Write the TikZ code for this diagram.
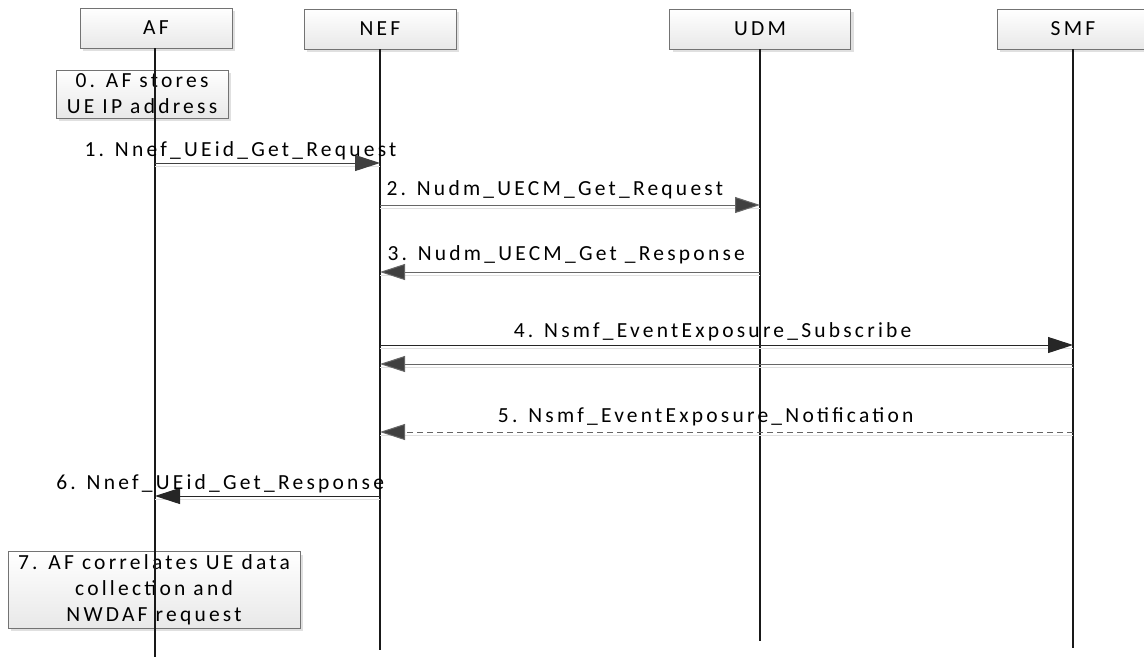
\documentclass[tikz,border=0pt]{standalone}
\usepackage{fontspec}
\setmainfont{Carlito}[LetterSpace=15]
\usepackage{tikz}
\usetikzlibrary{arrows.meta, positioning, calc, shadows}

\begin{document}
\begin{tikzpicture}[
    x=1pt, y=-1pt,
    font=\fontsize{21.5}{26}\selectfont,
    >={Triangle[length=25pt, width=16pt]},
    baseBox/.style={
        rectangle,
        draw=black!55,
        line width=0.9pt,
        top color=white,
        bottom color=black!9,
        align=center,
        inner sep=3pt,
        drop shadow={shadow xshift=3pt, shadow yshift=-3pt, fill=black!12, opacity=1}
    },
    headBox/.style={baseBox, minimum width=152pt, minimum height=40pt},
    noteBox/.style={baseBox},
    vida/.style={line width=1.6pt, draw=black!90},
    seta/.style={->, line width=1pt, draw=black!85,
        preaction={draw=black!12, -, transform canvas={yshift=-3pt}}},
    setaCinza/.style={seta, draw=black!60, -{Triangle[length=25pt, width=16pt, fill=black!75]}},
    tracejada/.style={setaCinza, dash pattern=on 6pt off 4pt},
    rotulo/.style={above, inner sep=6pt}
]
    \useasboundingbox (0,0) rectangle (1144,657);

    % --- 1. Participants ---
    \node[headBox] (af) at (156,28) {AF};
    \node[headBox] (nef) at (380,29) {NEF};
    \node[headBox, minimum width=181pt] (udm) at (760,29) {UDM};
    \node[headBox] (smf) at (1073,29) {SMF};

    % --- 2. Local actions of the AF ---
    \node[noteBox, minimum width=172pt, minimum height=48pt] (stores) at (142,94)
        {0. AF stores\\UE IP address};
    \node[noteBox, minimum width=292pt, minimum height=75pt] (correlates) at (154,590)
        {7. AF correlates UE data\\collection and\\NWDAF request};

    % --- 3. Lifelines ---
    \coordinate (afEnd) at (155,657);
    \coordinate (nefEnd) at (380,650);
    \coordinate (udmEnd) at (760,641);
    \coordinate (smfEnd) at (1073,648);
    \draw[vida] (af.south -| afEnd) -- (afEnd);
    \draw[vida] (nef.south) -- (nefEnd);
    \draw[vida] (udm.south) -- (udmEnd);
    \draw[vida] (smf.south) -- (smfEnd);

    % --- 4. Messages ---
    \coordinate (m1) at (0,163);
    \coordinate (m2) at (0,205);
    \coordinate (m3) at (0,272);
    \coordinate (m4) at (0,345);
    \coordinate (m4r) at (0,364);
    \coordinate (m5) at (0,432);
    \coordinate (m6) at (0,496);

    \draw[setaCinza, draw=black!75] (afEnd |- m1) -- node[rotulo, inner sep=3pt, pos=0.38] {1. Nnef\_UEid\_Get\_Request} (nef |- m1);
    \draw[setaCinza] (nef |- m2) -- node[rotulo, pos=0.46] {2. Nudm\_UECM\_Get\_Request} (udm |- m2);
    \draw[setaCinza] (udm |- m3) -- node[rotulo, inner sep=8pt, pos=0.51] {3. Nudm\_UECM\_Get \_Response} (nef |- m3);
    \draw[seta] (nef |- m4) -- node[rotulo, inner sep=4pt, pos=0.48] {4. Nsmf\_EventExposure\_Subscribe} (smf |- m4);
    \draw[setaCinza] (smf |- m4r) -- (nef |- m4r);
    \draw[tracejada] (smf |- m5) -- node[rotulo, pos=0.53] {5. Nsmf\_EventExposure\_Notification} (nef |- m5);
    \draw[seta] (nef |- m6) -- node[rotulo, inner sep=3pt, pos=0.71] {6. Nnef\_UEid\_Get\_Response} (afEnd |- m6);
\end{tikzpicture}
\end{document}
